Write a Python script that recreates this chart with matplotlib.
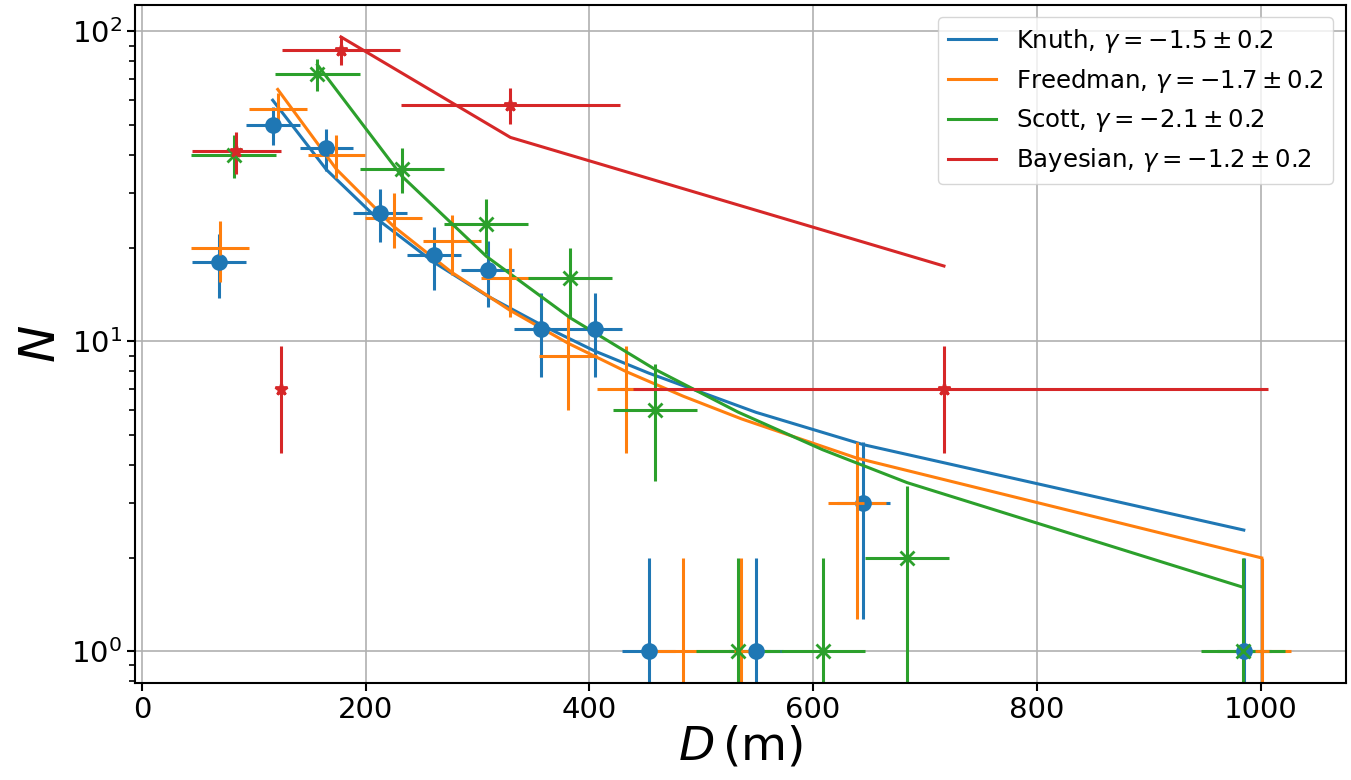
import numpy as np
from matplotlib import pyplot as plt

# Knuth binning
knuth_d = [69, 117, 165, 213, 261, 309, 357, 405, 453, 549, 645, 985]
knuth_n = [18, 50, 42, 26, 19, 17, 11, 11, 1, 1, 3, 1]
knuth_dw = 24
knuth_fit_d = [117, 165, 213, 261, 309, 357, 405, 453, 549, 645, 985]
knuth_fit_n = [60, 35.8, 24.4, 18.0, 14.0, 11.3, 9.3, 7.9, 5.9, 4.64, 2.46]

# Freedman binning
freed_d = [70, 121.5, 174, 225, 277, 329, 381, 432.5, 484, 536, 639, 1001]
freed_n = [20, 56, 40, 25, 21, 16, 9, 7, 1, 1, 3, 1]
freed_dw = 25.85
freed_fit_d = [121.5, 174, 225, 277, 329, 381, 432.5, 484, 536, 639, 1001]
freed_fit_n = [65, 35.9, 23.5, 16.7, 12.6, 9.86, 8.0, 6.65, 5.62, 4.2, 2.0]

# Scott binning
scott_d = [82, 157, 232.5, 308, 383, 458.5, 533, 608.5, 684, 984]
scott_n = [40, 73, 36, 24, 16, 6, 1, 1, 2, 1]
scott_dw = 37.6
scott_fit_d = [157, 232.5, 308, 383, 458.5, 533, 608.5, 684, 984]
scott_fit_n = [78, 34.1, 18.8, 11.9, 8.13, 5.91, 4.47, 3.5, 1.61]

# Bayesian blocks
bayes_d = [84.5, 124.5, 178, 329.5, 717]
bayes_n = [41, 7, 87, 58, 7]
bayes_dw = [39.75, 0.5, 53, 97.5, 290]
bayes_fit_d = [178, 329.5, 717]
bayes_fit_n = [96, 45.5, 17.5]

labels = [r'Knuth, $\gamma=-1.5\pm0.2$', r'Freedman, $\gamma=-1.7\pm0.2$',
          r'Scott, $\gamma=-2.1\pm0.2$', r'Bayesian, $\gamma=-1.2\pm0.2$']

fig = plt.figure(figsize=(13.51, 7.80), dpi=100)
ax = fig.add_axes([0.1, 0.124, 0.896, 0.87])

series = [
    (knuth_d, knuth_n, knuth_dw, knuth_fit_d, knuth_fit_n, 'C0', 'o', 10),
    (freed_d, freed_n, freed_dw, freed_fit_d, freed_fit_n, 'C1', '+', 10),
    (scott_d, scott_n, scott_dw, scott_fit_d, scott_fit_n, 'C2', 'x', 10),
    (bayes_d, bayes_n, bayes_dw, bayes_fit_d, bayes_fit_n, 'C3', '*', 9),
]

for (d, n, dw, fd, fn, c, m, ms), lab in zip(series, labels):
    n = np.array(n, dtype=float)
    ax.errorbar(d, n, yerr=np.sqrt(n), xerr=dw, fmt=m, color=c, ms=ms,
                mew=2, elinewidth=2.2)
    ax.plot(fd, fn, color=c, lw=2.2, label=lab)

ax.set_yscale('log')
ax.set_xlim(-6, 1076)
ax.set_ylim(0.788, 122)
ax.grid(True, color='#b0b0b0', lw=1.2)
ax.tick_params(labelsize=21, width=1.5, length=6)
ax.tick_params(which='minor', width=1.2, length=4)
for s in ax.spines.values():
    s.set_linewidth(1.5)

ax.set_xlabel(r'$D\,(\mathrm{m})$', fontsize=34, labelpad=0)
ax.set_ylabel(r'$N$', fontsize=36, labelpad=4)
ax.legend(loc='upper right', fontsize=17.6)

fig.savefig('out.png', dpi=100)
